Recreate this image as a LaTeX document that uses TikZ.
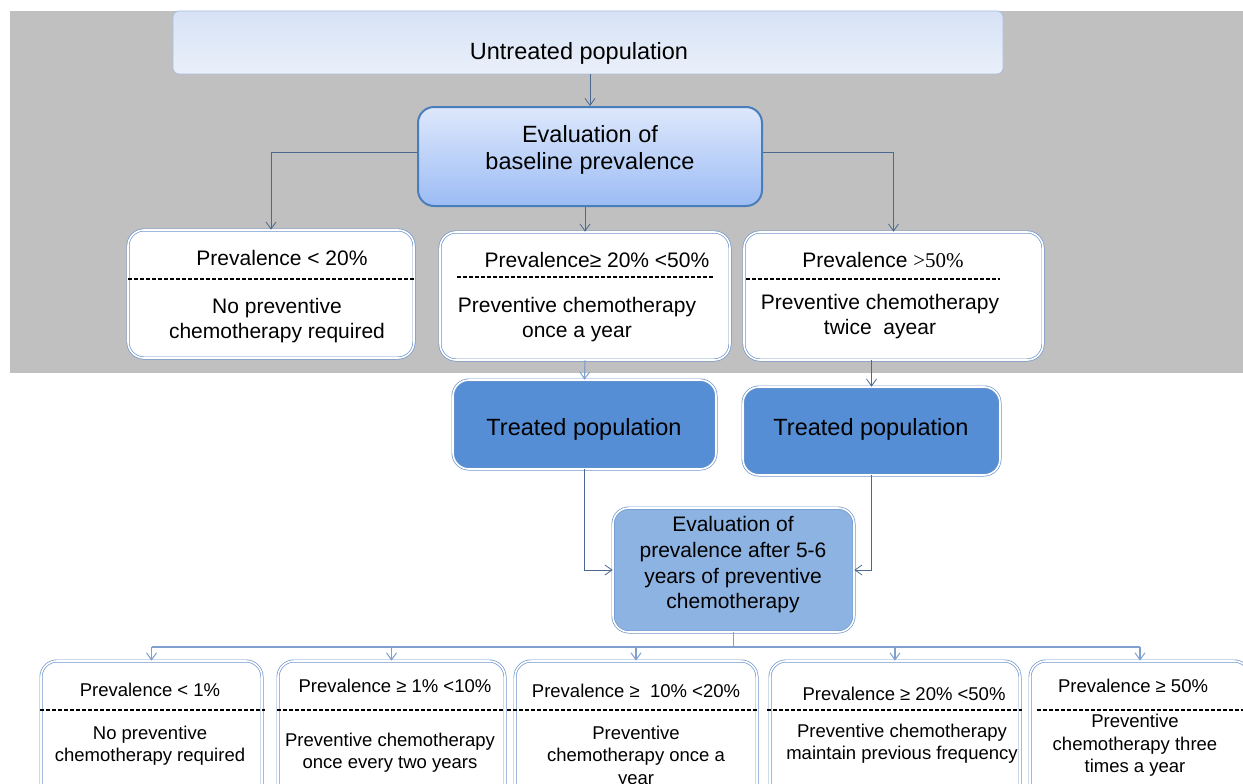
\documentclass[tikz,border=0pt]{standalone}
\usepackage{fontspec}
\setmainfont{Liberation Sans}
\newfontfamily\tnr{Liberation Serif}
\usetikzlibrary{arrows.meta}
\definecolor{bggray}{HTML}{C0C0C0}
\definecolor{edgeblue}{HTML}{6F95CC}
\definecolor{darkedge}{HTML}{4A7EBB}
\definecolor{treatfill}{HTML}{558ED5}
\definecolor{evalfill}{HTML}{8DB3E2}
\definecolor{conndark}{HTML}{4A6890}
\definecolor{connlight}{HTML}{7F9FCF}
\definecolor{topA}{HTML}{D6E2F5}
\definecolor{topB}{HTML}{EAF0FA}
\definecolor{evA}{HTML}{DEE8FC}
\definecolor{evB}{HTML}{9CBCF4}
\tikzset{
  dbl/.style={draw=edgeblue, double=white, double distance=1.6pt, line width=0.7pt, rounded corners=16pt},
  topbox/.style={draw=edgeblue!60, line width=0.8pt, rounded corners=6pt, top color=topA, bottom color=topB},
  evbox/.style={draw=darkedge, line width=2pt, rounded corners=16pt, top color=evA, bottom color=evB},
  wbox/.style={dbl, fill=white},
  tbox/.style={dbl, fill=treatfill},
  ebox/.style={dbl, fill=evalfill},
  big/.style={align=center, inner sep=0pt, font=\fontsize{23.5}{27}\selectfont},
  lbl/.style={align=center, inner sep=0pt, font=\fontsize{21}{25}\selectfont},
  slbl/.style={align=center, inner sep=0pt, font=\fontsize{18.5}{22.5}\selectfont},
  divider/.style={dashed, dash pattern=on 4pt off 2pt, line width=1.2pt, black},
  conn/.style={draw=conndark, line width=0.8pt, -{Straight Barb[length=7pt,width=10pt,line width=0.8pt]}},
  connl/.style={draw=connlight, line width=1.2pt, -{Straight Barb[length=7pt,width=10pt,line width=1pt]}},
  plain/.style={draw=connlight, line width=1.5pt},
}
\begin{document}
\begin{tikzpicture}[x=1pt,y=-1pt]
\useasboundingbox (0,0) rectangle (1243,784);
\clip (0,0) rectangle (1243,784);
\fill[bggray] (10,11) rectangle (1243,373);

% top level
\node[topbox, minimum width=830pt, minimum height=63pt] (untr) at (588,42.5) {};
\node[big] (untrT) at (579,53) {Untreated population};

\node[evbox, minimum width=344pt, minimum height=99pt] (evb) at (590,156.5) {};
\node[big] (evbT) at (590,150) {Evaluation of\\baseline prevalence};

% three prevalence boxes
\node[wbox, minimum width=286pt, minimum height=128pt] (b1) at (271,294) {};
\node[wbox, minimum width=290pt, minimum height=128pt] (b2) at (585,296) {};
\node[wbox, minimum width=299pt, minimum height=128pt] (b3) at (893.5,296) {};
\draw[divider] (128,279) -- (414,279);
\draw[divider] (457,277) -- (713,277);
\draw[divider] (746,279) -- (1000,279);
\node[lbl] (b1a) at (282,258) {Prevalence < 20\%};
\node[lbl] (b1b) at (277,320.5) {No preventive\\chemotherapy required};
\node[lbl] (b2a) at (597,260) {Prevalence≥ 20\% <50\%};
\node[lbl] (b2b) at (577,319.5) {Preventive chemotherapy\\once a year};
\node[lbl] (b3a) at (883,260) {Prevalence {\tnr >50\%}};
\node[lbl] (b3b) at (880,317) {Preventive chemotherapy\\twice\ \ ayear};

% treated populations
\node[tbox, minimum width=263pt, minimum height=89pt] (tp1) at (584.5,424.5) {};
\node[tbox, minimum width=257pt, minimum height=88pt] (tp2) at (871.5,431) {};
\node[big] (tp1T) at (584,429) {Treated population};
\node[big] (tp2T) at (871,429) {Treated population};

% second evaluation
\node[ebox, minimum width=241pt, minimum height=124pt] (ev2) at (733.5,570) {};
\node[lbl, font=\fontsize{21}{25.7}\selectfont] (ev2T) at (733,565) {Evaluation of\\prevalence after 5-6\\years of preventive\\chemotherapy};

% bottom boxes
\node[wbox, minimum width=221pt, minimum height=150pt] (c1) at (151.5,736) {};
\node[wbox, minimum width=227pt, minimum height=150pt] (c2) at (391.5,736) {};
\node[wbox, minimum width=242pt, minimum height=150pt] (c3) at (636,736) {};
\node[wbox, minimum width=250pt, minimum height=150pt] (c4) at (895,736) {};
\node[wbox, minimum width=220pt, minimum height=150pt] (c5) at (1140,736) {};
\draw[divider] (40,710) -- (265,710);
\draw[divider] (277,710) -- (503,710);
\draw[divider] (507,710) -- (757,710);
\draw[divider] (767,710) -- (1022,710);
\draw[divider] (1037,710) -- (1243,710);
\node[slbl] (c1a) at (150,690) {Prevalence < 1\%};
\node[slbl] (c1b) at (150,745.5) {No preventive\\chemotherapy required};
\node[slbl] (c2a) at (395,686) {Prevalence ≥ 1\% <10\%};
\node[slbl] (c2b) at (390,752.5) {Preventive chemotherapy\\once every two years};
\node[slbl] (c3a) at (636,691) {Prevalence ≥\ \ 10\% <20\%};
\node[slbl] (c3b) at (636,757) {Preventive\\chemotherapy once a\\year};
\node[slbl] (c4a) at (904,694) {Prevalence ≥ 20\% <50\%};
\node[slbl] (c4b) at (902,743.5) {Preventive chemotherapy\\maintain previous frequency};
\node[slbl] (c5a) at (1133,686) {Prevalence ≥ 50\%};
\node[slbl] (c5b) at (1135,745.5) {Preventive\\chemotherapy three\\times a year};

% connectors top
\draw[conn] (untr.south -| 590,0) -- (evb.north);
\draw[conn] ([yshift=4.5pt]evb.west) -| (b1.north);
\draw[conn] ([yshift=4.5pt]evb.east) -| (b3.north);
\draw[conn] (b2.north |- evb.south) -- (b2.north);
\draw[connl] (b2.south) -- (tp1.north);
\draw[conn] (b3.south -| tp2.north) -- (tp2.north);
\draw[conn] (tp1.south) |- (ev2.west);
\draw[conn] (tp2.south) |- (ev2.east);

% bus
\coordinate (bus) at (733.5,647);
\draw[plain] (ev2.south) -- (bus);
\draw[plain] (c1.north |- bus) -- (c5.north |- bus);
\foreach \n in {c1,c2,c3,c4,c5}{
  \draw[connl] (\n.north |- bus) -- (\n.north);
}
\end{tikzpicture}
\end{document}
